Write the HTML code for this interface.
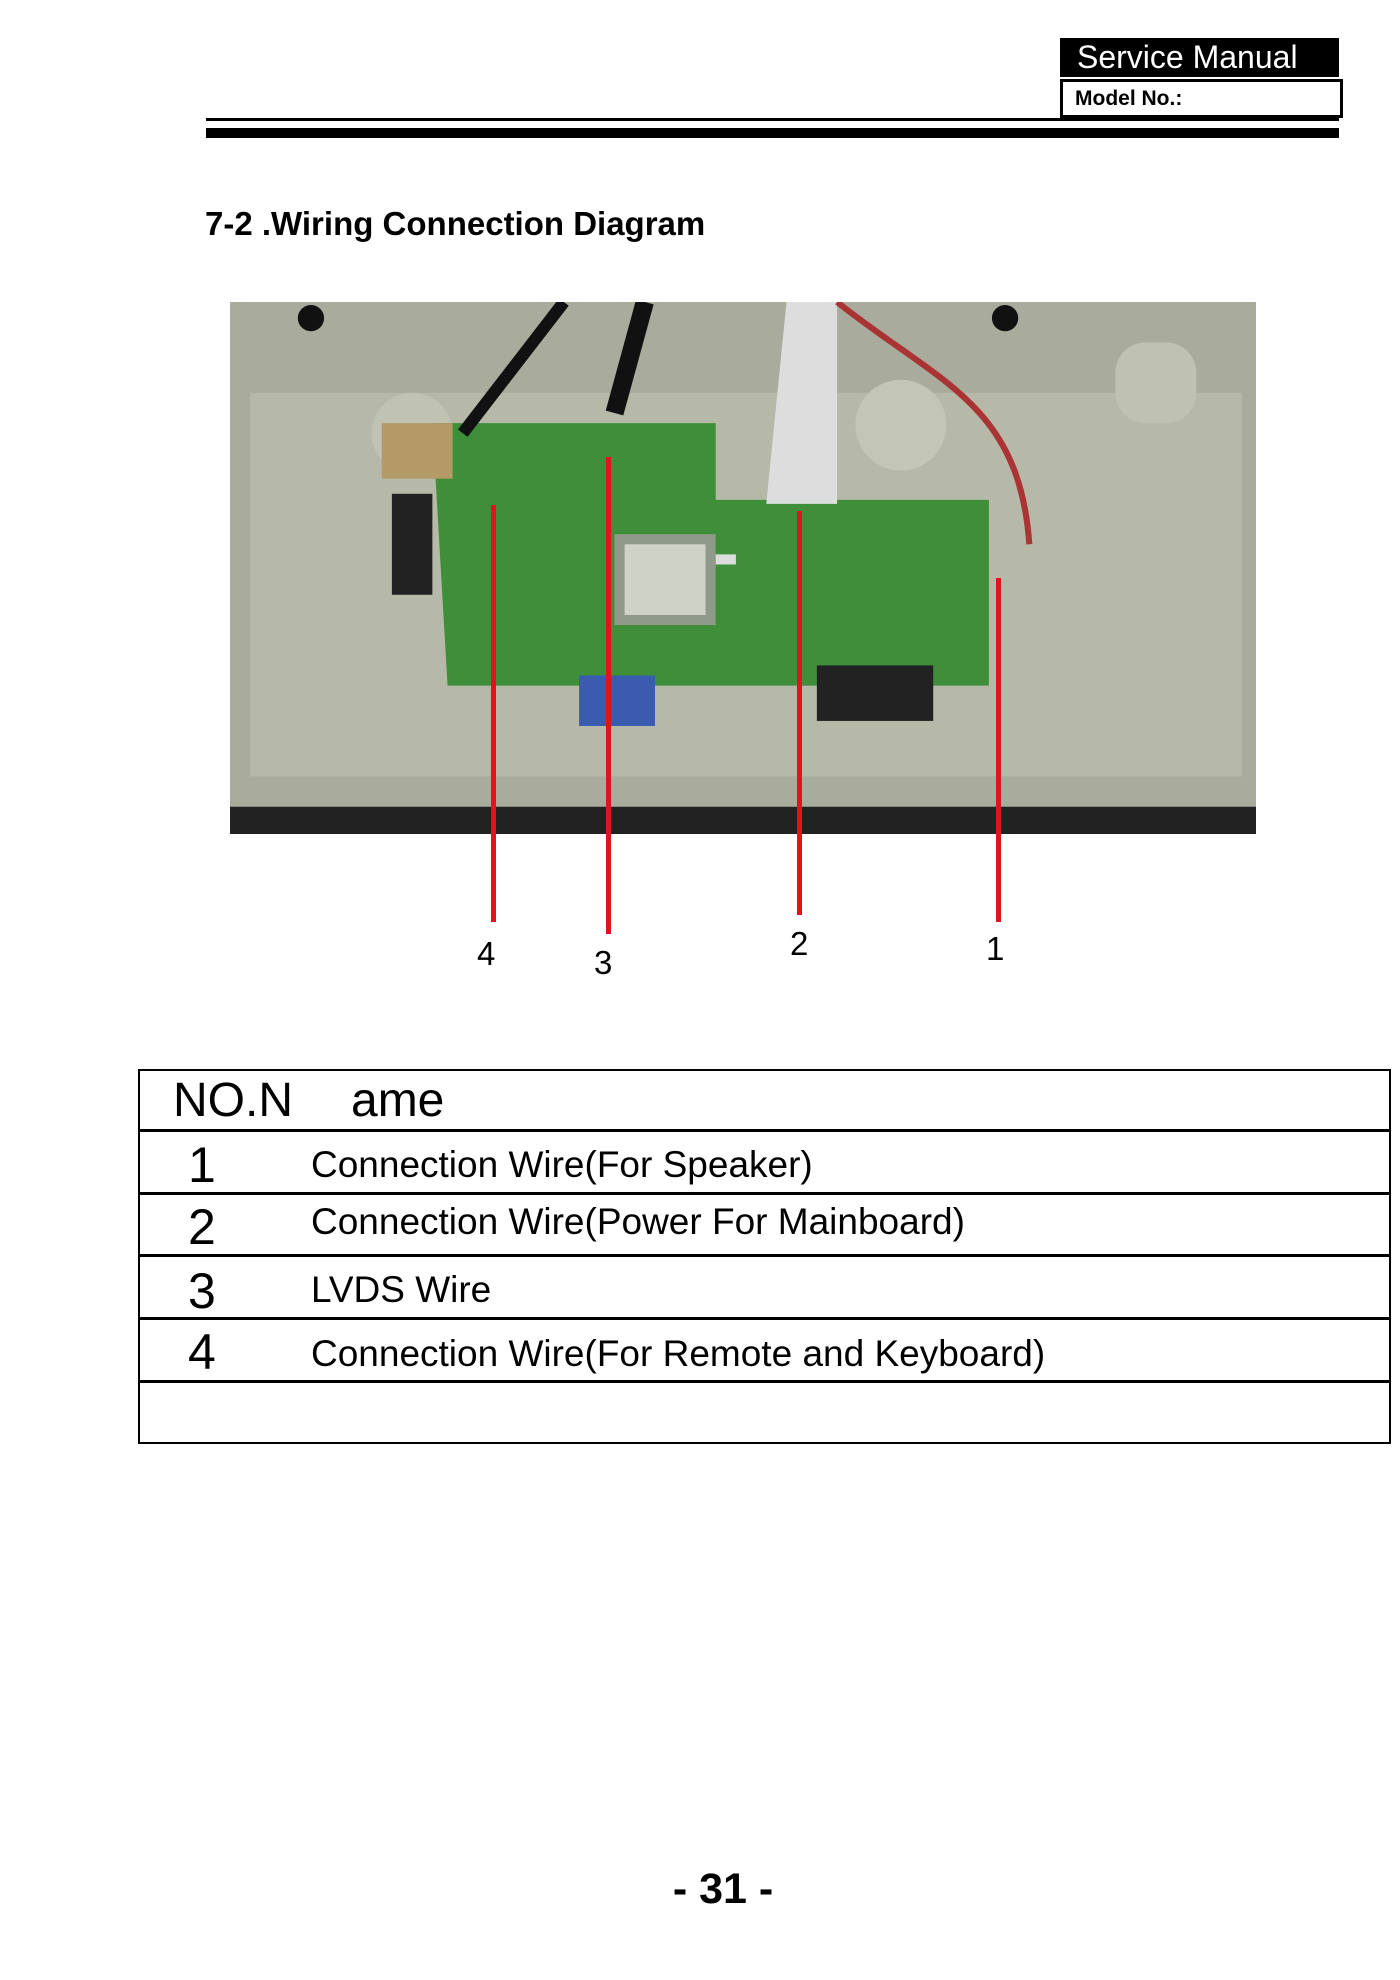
<!DOCTYPE html>
<html><head><meta charset="utf-8"><style>
body{margin:0;width:1400px;height:1980px;background:#fff;position:relative;font-family:"Liberation Sans",sans-serif;overflow:hidden}
.a{position:absolute;line-height:1;white-space:nowrap}
</style></head><body>
<div class="a" style="left:1060px;top:38px;width:262px;height:39px;background:#000;color:#fff;font-size:32px;line-height:39px;padding-left:17px">Service Manual</div>
<div class="a" style="left:1060px;top:79px;width:265px;height:33px;border:3px solid #000;font-size:21px;font-weight:bold;line-height:33px;padding-left:12px">Model No.:</div>
<div class="a" style="left:206px;top:118px;width:1133px;height:3px;background:#000"></div>
<div class="a" style="left:206px;top:128px;width:1133px;height:10px;background:#000"></div>
<div class="a" style="left:205px;top:207px;font-size:33px;font-weight:bold">7-2 .Wiring Connection Diagram</div>
<svg class="a" style="left:230px;top:302px" width="1026" height="532" viewBox="0 0 1014 527" preserveAspectRatio="none">
<rect width="1014" height="527" fill="#a9ab9c"/>
<rect x="20" y="90" width="980" height="380" fill="#b6b8a8"/>
<rect x="0" y="500" width="1014" height="27" fill="#222"/>
<circle cx="80" cy="16" r="13" fill="#111"/><circle cx="766" cy="16" r="13" fill="#111"/>
<circle cx="663" cy="122" r="45" fill="#c3c5b5"/><circle cx="180" cy="130" r="40" fill="#c0c2b2"/>
<rect x="875" y="40" width="80" height="80" rx="30" fill="#bfc1b2"/>
<path d="M200 120 L480 120 L480 196 L750 196 L750 380 L215 380 Z" fill="#3f8f3a"/>
<rect x="380" y="230" width="100" height="90" fill="#8f9a8a"/>
<rect x="390" y="240" width="80" height="70" fill="#cfd2c6"/>
<rect x="150" y="120" width="70" height="55" fill="#b39a66"/>
<rect x="160" y="190" width="40" height="100" fill="#222"/>
<rect x="345" y="370" width="75" height="50" fill="#3a5bb0"/>
<rect x="580" y="360" width="115" height="55" fill="#222"/>
<rect x="480" y="250" width="20" height="10" fill="#ddd"/>
<path d="M330 0 L230 130" stroke="#111" stroke-width="12" fill="none"/>
<path d="M410 0 L380 110" stroke="#111" stroke-width="18" fill="none"/>
<path d="M550 0 L600 0 L600 200 L530 200 Z" fill="#ddd"/>
<path d="M600 0 C700 80 780 100 790 240" stroke="#a33" stroke-width="6" fill="none"/>
</svg>
<div class="a" style="left:491px;top:505px;width:5px;height:417px;background:#e0141e"></div>
<div class="a" style="left:606px;top:457px;width:5px;height:477px;background:#e0141e"></div>
<div class="a" style="left:797px;top:511px;width:5px;height:404px;background:#e0141e"></div>
<div class="a" style="left:996px;top:578px;width:5px;height:344px;background:#e0141e"></div>
<div class="a" style="left:477px;top:937px;font-size:33px">4</div>
<div class="a" style="left:594px;top:946px;font-size:33px">3</div>
<div class="a" style="left:790px;top:927px;font-size:33px">2</div>
<div class="a" style="left:986px;top:932px;font-size:33px">1</div>
<div class="a" style="left:138px;top:1069px;width:1253px;height:375px;border:2px solid #000;box-sizing:border-box"></div>
<div class="a" style="left:138px;top:1129px;width:1253px;height:3px;background:#000"></div>
<div class="a" style="left:138px;top:1192px;width:1253px;height:3px;background:#000"></div>
<div class="a" style="left:138px;top:1254px;width:1253px;height:3px;background:#000"></div>
<div class="a" style="left:138px;top:1317px;width:1253px;height:3px;background:#000"></div>
<div class="a" style="left:138px;top:1380px;width:1253px;height:3px;background:#000"></div>
<div class="a" style="left:173px;top:1077px;font-size:48px">NO.N</div>
<div class="a" style="left:351px;top:1077px;font-size:48px">ame</div>
<div class="a" style="left:188px;top:1140px;font-size:50px">1</div>
<div class="a" style="left:188px;top:1202px;font-size:50px">2</div>
<div class="a" style="left:188px;top:1266px;font-size:50px">3</div>
<div class="a" style="left:188px;top:1327px;font-size:50px">4</div>
<div class="a" style="left:311px;top:1146px;font-size:37px">Connection Wire(For Speaker)</div>
<div class="a" style="left:311px;top:1203px;font-size:37px">Connection Wire(Power For Mainboard)</div>
<div class="a" style="left:311px;top:1271px;font-size:37px">LVDS Wire</div>
<div class="a" style="left:311px;top:1335px;font-size:37px">Connection Wire(For Remote and Keyboard)</div>
<div class="a" style="left:623px;top:1868px;width:200px;text-align:center;font-size:43px;font-weight:bold">- 31 -</div>
</body></html>
